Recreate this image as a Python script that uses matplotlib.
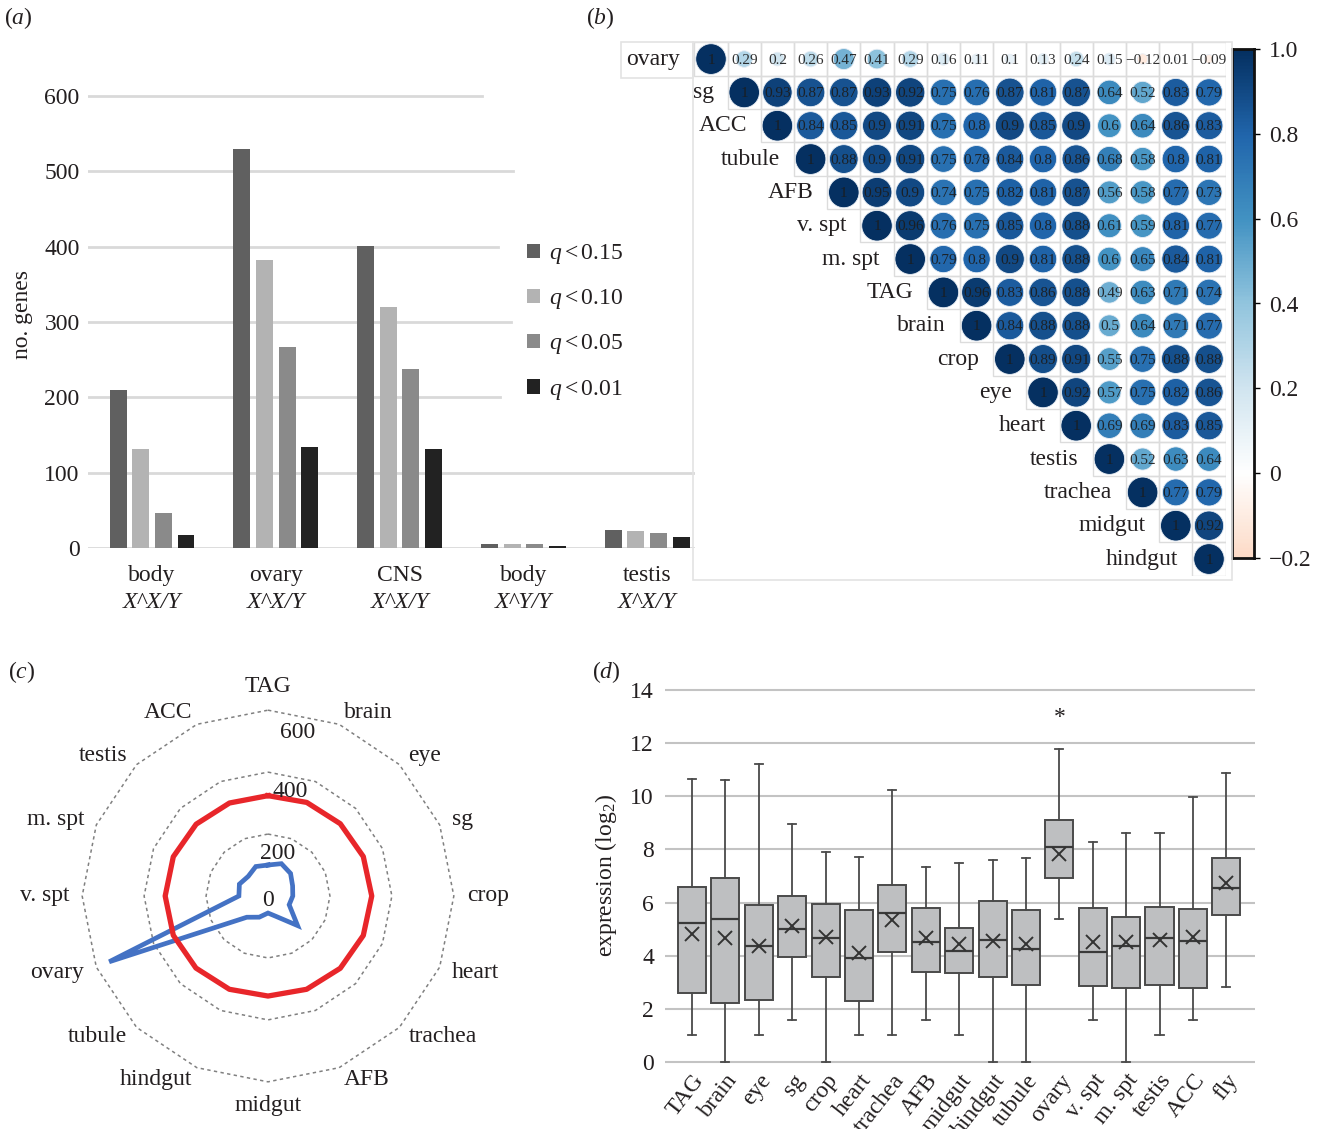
import numpy as np
import matplotlib
matplotlib.use("Agg")
import matplotlib.pyplot as plt
from matplotlib.patches import Circle, Rectangle
from matplotlib.colors import LinearSegmentedColormap, Normalize
from matplotlib.transforms import offset_copy

plt.rcParams['font.family'] = ['Liberation Serif', 'DejaVu Serif']
plt.rcParams['mathtext.fontset'] = 'custom'
plt.rcParams['mathtext.rm'] = 'Liberation Serif'
plt.rcParams['mathtext.it'] = 'Liberation Serif:italic'
plt.rcParams['mathtext.bf'] = 'Liberation Serif:bold'
plt.rcParams['axes.unicode_minus'] = True

TXT = '#231f20'

# ---------------- (a) differentially expressed gene counts ----------------
groups_a = ['body', 'ovary', 'CNS', 'body', 'testis']
groups_a2 = ['X^X/Y', 'X^X/Y', 'X^X/Y', 'X^Y/Y', 'X^X/Y']
thresholds = ['$q<0.15$', '$q<0.10$', '$q<0.05$', '$q<0.01$']
genes_q015 = [210, 530, 401, 5, 24]
genes_q010 = [131, 382, 320, 5, 23]
genes_q005 = [46, 267, 238, 5, 20]
genes_q001 = [17, 134, 131, 2, 15]
bar_colors = ['#606060', '#b3b3b3', '#8a8a8a', '#222222']

# ---------------- (b) tissue correlation matrix (upper triangle) ----------------
tissues_b = ['ovary', 'sg', 'ACC', 'tubule', 'AFB', 'v. spt', 'm. spt', 'TAG',
             'brain', 'crop', 'eye', 'heart', 'testis', 'trachea', 'midgut', 'hindgut']
corr_ovary = [1, 0.29, 0.2, 0.26, 0.47, 0.41, 0.29, 0.16, 0.11, 0.1, 0.13, 0.24, 0.15, -0.12, 0.01, -0.09]
corr_sg = [1, 0.93, 0.87, 0.87, 0.93, 0.92, 0.75, 0.76, 0.87, 0.81, 0.87, 0.64, 0.52, 0.83, 0.79]
corr_acc = [1, 0.84, 0.85, 0.9, 0.91, 0.75, 0.8, 0.9, 0.85, 0.9, 0.6, 0.64, 0.86, 0.83]
corr_tubule = [1, 0.88, 0.9, 0.91, 0.75, 0.78, 0.84, 0.8, 0.86, 0.68, 0.58, 0.8, 0.81]
corr_afb = [1, 0.95, 0.9, 0.74, 0.75, 0.82, 0.81, 0.87, 0.56, 0.58, 0.77, 0.73]
corr_vspt = [1, 0.96, 0.76, 0.75, 0.85, 0.8, 0.88, 0.61, 0.59, 0.81, 0.77]
corr_mspt = [1, 0.79, 0.8, 0.9, 0.81, 0.88, 0.6, 0.65, 0.84, 0.81]
corr_tag = [1, 0.96, 0.83, 0.86, 0.88, 0.49, 0.63, 0.71, 0.74]
corr_brain = [1, 0.84, 0.88, 0.88, 0.5, 0.64, 0.71, 0.77]
corr_crop = [1, 0.89, 0.91, 0.55, 0.75, 0.88, 0.88]
corr_eye = [1, 0.92, 0.57, 0.75, 0.82, 0.86]
corr_heart = [1, 0.69, 0.69, 0.83, 0.85]
corr_testis = [1, 0.52, 0.63, 0.64]
corr_trachea = [1, 0.77, 0.79]
corr_midgut = [1, 0.92]
corr_hindgut = [1]
corr_rows = [corr_ovary, corr_sg, corr_acc, corr_tubule, corr_afb, corr_vspt, corr_mspt,
             corr_tag, corr_brain, corr_crop, corr_eye, corr_heart, corr_testis,
             corr_trachea, corr_midgut, corr_hindgut]
cbar_ticks = [1.0, 0.8, 0.6, 0.4, 0.2, 0.0, -0.2]
cbar_labels = ['1.0', '0.8', '0.6', '0.4', '0.2', '0', '\u22120.2']

# ---------------- (c) radar of gene counts per tissue ----------------
radar_tissues = ['TAG', 'brain', 'eye', 'sg', 'crop', 'heart', 'trachea', 'AFB',
                 'midgut', 'hindgut', 'tubule', 'ovary', 'v. spt', 'm. spt', 'testis', 'ACC']
radar_blue = [100, 113, 103, 86, 80, 74, 135, 72, 55, 74, 97, 555, 94, 100, 90, 103]
radar_red = [324, 327, 330, 333, 335, 333, 330, 326, 323, 326, 329, 331, 332, 331, 328, 325]
radar_rings = [200, 400, 600]

# ---------------- (d) expression box plots ----------------
tissues_d = ['TAG', 'brain', 'eye', 'sg', 'crop', 'heart', 'trachea', 'AFB', 'midgut',
             'hindgut', 'tubule', 'ovary', 'v. spt', 'm. spt', 'testis', 'ACC', 'fly']
expr_whishi = [10.66, 10.6, 11.2, 8.94, 7.89, 7.71, 10.25, 7.34, 7.5, 7.6, 7.69, 11.78, 8.28, 8.63, 8.63, 9.96, 10.88]
expr_q3 = [6.59, 6.91, 5.9, 6.25, 5.94, 5.71, 6.66, 5.81, 5.06, 6.06, 5.71, 9.09, 5.78, 5.46, 5.84, 5.75, 7.69]
expr_median = [5.22, 5.37, 4.35, 5.0, 4.65, 3.9, 5.62, 4.5, 4.16, 4.59, 4.25, 8.09, 4.15, 4.35, 4.66, 4.56, 6.56]
expr_mean = [4.8, 4.65, 4.37, 5.1, 4.7, 4.1, 5.35, 4.65, 4.44, 4.55, 4.44, 7.81, 4.5, 4.5, 4.59, 4.69, 6.73]
expr_q1 = [2.59, 2.21, 2.35, 3.96, 3.19, 2.31, 4.15, 3.4, 3.35, 3.19, 2.9, 6.94, 2.85, 2.78, 2.88, 2.78, 5.53]
expr_whislo = [1.0, 0.0, 1.0, 1.59, 0.0, 1.0, 1.0, 1.59, 1.0, 0.0, 0.0, 5.37, 1.59, 0.0, 1.0, 1.59, 2.81]
signif_tissue = 'ovary'

# ---------------------------------------------------------------------------
W, H = 1325, 1129
fig = plt.figure(figsize=(W / 100, H / 100), dpi=100)
fig.patch.set_facecolor('white')


def px_rect(x0, y0, x1, y1):
    return [x0 / W, 1 - y1 / H, (x1 - x0) / W, (y1 - y0) / H]


FS = 17

# panel letters
for lab, (x, y) in zip(['a', 'b', 'c', 'd'], [(18, 18), (600, 18), (22, 672), (606, 672)]):
    fig.text(x / W, 1 - y / H, '($%s$)' % lab, fontsize=FS, color=TXT, ha='center', va='center')

# ======================= (a) =======================
axa = fig.add_axes(px_rect(88, 80.9, 695, 548))
xg = np.arange(len(groups_a))
series = [genes_q015, genes_q010, genes_q005, genes_q001]
bw, step = 0.137, 0.183
handles = []
for k, (vals, col) in enumerate(zip(series, bar_colors)):
    h = axa.bar(xg + (k - 1.5) * step, vals, width=bw, color=col, zorder=3)
    handles.append(h)
axa.set_xlim(-0.517, 4.386)
axa.set_ylim(0, 620)
for sp in axa.spines.values():
    sp.set_visible(False)
grid_reach = {0: 1.0, 100: 1.0, 200: 0.679, 300: 0.697, 400: 0.676, 500: 0.700, 600: 0.649}
for yv, xm in grid_reach.items():
    axa.axhline(yv, xmin=0, xmax=xm, color='#d9d9d9', lw=2, zorder=1)
axa.set_yticks([0, 100, 200, 300, 400, 500, 600])
axa.tick_params(axis='y', length=0, pad=6, labelsize=FS, labelcolor=TXT)
axa.set_xticks(xg)
axa.set_xticklabels(groups_a)
axa.tick_params(axis='x', length=0, pad=12, labelsize=FS, labelcolor=TXT)
for x, lab in zip(xg, groups_a2):
    axa.annotate(lab, xy=(x, 0), xycoords=('data', 'axes fraction'), xytext=(0, -39),
                 textcoords='offset points', ha='center', va='center', fontsize=FS,
                 style='italic', color=TXT)
axa.set_ylabel('no. genes', fontsize=FS, color=TXT, labelpad=8)
leg = axa.legend(handles, thresholds, loc='upper left',
                 bbox_to_anchor=(527 / W, 1 - 242 / H), bbox_transform=fig.transFigure,
                 frameon=False, fontsize=FS, handlelength=0.55, handleheight=0.55,
                 handletextpad=0.4, labelspacing=0.9, borderaxespad=0, borderpad=0)
for t in leg.get_texts():
    t.set_color(TXT)

# ======================= (b) =======================
# frames around the correlation panel
fig.add_artist(Rectangle((693 / W, 1 - 580 / H), (1232 - 693) / W, (580 - 42) / H,
                         transform=fig.transFigure, fill=False, ec='#e3e3e3', lw=1.2))
fig.add_artist(Rectangle((621 / W, 1 - 78 / H), (693 - 621) / W, (78 - 42) / H,
                         transform=fig.transFigure, fill=False, ec='#e3e3e3', lw=1.2))

cmap = LinearSegmentedColormap.from_list(
    'corr', ['#67001F', '#B2182B', '#D6604D', '#F4A582', '#FDDBC7', '#FFFFFF',
             '#D1E5F0', '#92C5DE', '#4393C3', '#2166AC', '#053061'])
norm = Normalize(-1, 1)

n = len(tissues_b)
axb = fig.add_axes(px_rect(694.4, 42.4, 1225.6, 575.7))
axb.set_xlim(-0.5, n - 0.5)
axb.set_ylim(n - 0.5, -0.5)
axb.axis('off')
for i, row in enumerate(corr_rows):
    for k, r in enumerate(row):
        j = i + k
        axb.add_patch(Rectangle((j - 0.5, i - 0.5), 1, 1, fill=False, ec='#dcdcdc', lw=1.0))
        rad = 0.46 * np.sqrt(abs(r))
        axb.add_patch(Circle((j, i), rad, fc=cmap(norm(r)), ec='#e8eef5', lw=0.6, zorder=3))
        txt = ('%g' % r).replace('-', '\u2212')
        axb.text(j, i + 0.03, txt, ha='center', va='center', fontsize=11,
                 color='#1c1c1c', alpha=0.9, zorder=4)
    axb.text(i - 0.92, i, tissues_b[i], ha='right', va='center', fontsize=FS, color=TXT)

axc_bar = fig.add_axes(px_rect(1232, 49, 1254, 558))
grad = np.linspace(-0.2, 1.0, 300).reshape(-1, 1)
axc_bar.imshow(grad, cmap=cmap, norm=norm, aspect='auto', origin='lower',
               extent=[0, 1, -0.2, 1.0])
axc_bar.set_xticks([])
axc_bar.yaxis.tick_right()
axc_bar.set_yticks(cbar_ticks)
axc_bar.set_yticklabels(cbar_labels)
axc_bar.tick_params(axis='y', length=4, width=1, pad=7, labelsize=FS, labelcolor=TXT)
for sp in axc_bar.spines.values():
    sp.set_linewidth(2)
    sp.set_color('#111111')

# ======================= (c) =======================
cx, cy, R = 268, 896, 223
axr = fig.add_axes(px_rect(cx - R, cy - R, cx + R, cy + R), projection='polar')
axr.set_theta_offset(np.pi / 2)
axr.set_theta_direction(-1)
axr.set_rlim(0, 720)
axr.grid(False)
axr.spines['polar'].set_visible(False)
axr.set_xticks([])
axr.set_yticks([])
m = len(radar_tissues)
theta = np.arange(m) * 2 * np.pi / m
theta_c = np.append(theta, theta[0])
for v in radar_rings:
    axr.plot(theta_c, [v] * (m + 1), color='#808080', lw=1.1, ls=(0, (2.2, 2.2)), zorder=1)
axr.plot(theta_c, radar_blue + radar_blue[:1], color='#4472c4', lw=3.4, zorder=3,
         solid_joinstyle='miter')
axr.plot(theta_c, radar_red + radar_red[:1], color='#e8262a', lw=3.8, zorder=4)
# category names sit just outside the outer ring, aligned away from the centre
for t, lab in zip(theta, radar_tissues):
    s, c = np.sin(t), np.cos(t)
    ha = 'left' if s > 0.1 else ('right' if s < -0.1 else 'center')
    va = 'bottom' if c > 0.95 else ('top' if c < -0.95 else 'center')
    axr.text(t, 642, lab, ha=ha, va=va, fontsize=FS, color=TXT, clip_on=False)
ring_label_shift = {0: (0, -4), 200: (10, 0), 400: (22, 0), 600: (30, -3)}
for v, (dx, dy) in ring_label_shift.items():
    rr = 0 if v == 0 else v - 64
    tr = offset_copy(axr.transData, fig=fig, x=dx, y=dy, units='dots')
    axr.text(0, rr, str(v), transform=tr, ha='center', va='center', fontsize=FS,
             color=TXT, zorder=5)

# ======================= (d) =======================
axd = fig.add_axes(px_rect(665, 687.3, 1255, 1064.7))
stats = []
for i, name in enumerate(tissues_d):
    stats.append(dict(label=name, whislo=expr_whislo[i], q1=expr_q1[i], med=expr_median[i],
                      q3=expr_q3[i], whishi=expr_whishi[i], mean=expr_mean[i], fliers=[]))
pos = np.arange(len(tissues_d))
axd.bxp(stats, positions=pos, widths=0.84, patch_artist=True, showmeans=True,
        showfliers=False, capwidths=0.24,
        boxprops=dict(facecolor='#bebfc1', edgecolor='#4a4a4a', lw=1.4),
        medianprops=dict(color='#3a3a3a', lw=1.6),
        whiskerprops=dict(color='#4a4a4a', lw=1.3),
        capprops=dict(color='#4a4a4a', lw=1.3),
        meanprops=dict(marker='x', markersize=10, markeredgecolor='#333333',
                       markeredgewidth=1.4), zorder=3)
si = tissues_d.index(signif_tissue)
axd.text(pos[si], expr_whishi[si] + 1.2, '*', ha='center', va='center', fontsize=FS, color=TXT)
axd.set_xlim(-0.81, 16.86)
axd.set_ylim(-0.1, 14.1)
for sp in axd.spines.values():
    sp.set_visible(False)
axd.set_yticks(np.arange(0, 15, 2))
axd.yaxis.grid(True, color='#c3c3c3', lw=1.5, zorder=0)
axd.set_axisbelow(True)
axd.tick_params(axis='y', length=0, pad=8, labelsize=FS, labelcolor=TXT)
axd.set_xticks(pos)
axd.set_xticklabels(tissues_d, rotation=52, ha='right', rotation_mode='anchor')
axd.tick_params(axis='x', length=0, pad=4, labelsize=FS, labelcolor=TXT)
axd.set_ylabel('expression (log$_2$)', fontsize=FS, color=TXT, labelpad=8)

fig.savefig('out.png', dpi=100, facecolor='white')
